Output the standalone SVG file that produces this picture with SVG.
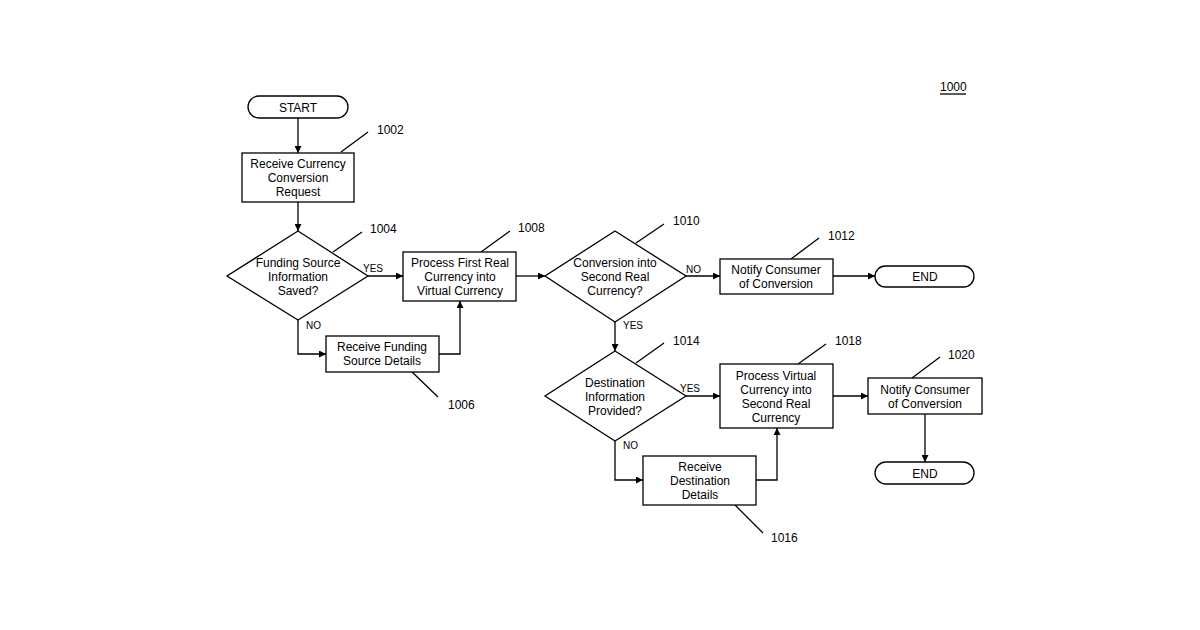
<svg xmlns="http://www.w3.org/2000/svg" width="1200" height="630" viewBox="0 0 1200 630">
<style>
.s{fill:#fff;stroke:#000;stroke-width:1.3}
.l{fill:none;stroke:#000;stroke-width:1.3}
.t{font-family:"Liberation Sans",Arial,sans-serif;font-size:12px;fill:#000;text-anchor:middle}
.n{font-family:"Liberation Sans",Arial,sans-serif;font-size:12px;fill:#000}
.sm{font-family:"Liberation Sans",Arial,sans-serif;font-size:10px;fill:#000}
</style>
<defs><marker id="a" viewBox="0 0 10 10" refX="10" refY="5" markerWidth="7" markerHeight="7" orient="auto" markerUnits="userSpaceOnUse"><path d="M0,0L10,5L0,10z" fill="#000"/></marker></defs>
<rect width="1200" height="630" fill="#fff"/>
<g id="connectors" class="l" marker-end="url(#a)">
<path d="M298,118V153"/>
<path d="M298,202V231"/>
<path d="M368,276H403"/>
<path d="M298,320V354H326"/>
<path d="M439,354H460V301"/>
<path d="M516,276H545"/>
<path d="M686,276H720"/>
<path d="M833,276H875"/>
<path d="M615,322V351"/>
<path d="M686,396H720"/>
<path d="M615,441V480H643"/>
<path d="M756,480H777V428"/>
<path d="M833,396H868"/>
<path d="M925,414V462"/>
</g>
<g class="l">
<path d="M341,152L368,132M333,252L362,232M481,252L510,231M411,371L438,397M636,243L664,224M791,259L819,238M636,363L664,343M798,364L826,344M912,378L940,357M735,505L763,533"/>
</g>
<g class="n"><text x="377" y="134">1002</text><text x="370" y="233">1004</text><text x="518" y="232">1008</text><text x="448" y="409">1006</text><text x="673" y="225">1010</text><text x="828" y="240">1012</text><text x="673" y="345">1014</text><text x="835" y="345">1018</text><text x="948" y="359">1020</text><text x="771" y="542">1016</text>
<text x="940" y="91">1000</text></g>
<path d="M940,94H966" class="l" stroke-width="1"/>
<g class="sm"><text x="306" y="329">NO</text><text x="363" y="272">YES</text><text x="623" y="329">YES</text><text x="686" y="273">NO</text><text x="680" y="392">YES</text><text x="623" y="449">NO</text></g>
<g id="start"><rect class="s" x="248" y="96" width="100" height="22" rx="11"/><text class="t" x="298" y="111.5">START</text></g>
<g id="n1002"><rect class="s" x="242" y="153" width="112" height="49"/><text class="t" x="298" y="168">Receive Currency</text><text class="t" x="298" y="182">Conversion</text><text class="t" x="298" y="196">Request</text></g>
<g id="n1004"><path class="s" d="M298,231L368,276L298,320L227,276z"/><text class="t" x="298" y="267">Funding Source</text><text class="t" x="298" y="281">Information</text><text class="t" x="298" y="295">Saved?</text></g>
<g id="n1006"><rect class="s" x="326" y="336" width="113" height="36"/><text class="t" x="382" y="351">Receive Funding</text><text class="t" x="382" y="365">Source Details</text></g>
<g id="n1008"><rect class="s" x="403" y="252" width="113" height="49"/><text class="t" x="460" y="267">Process First Real</text><text class="t" x="460" y="281">Currency into</text><text class="t" x="460" y="295">Virtual Currency</text></g>
<g id="n1010"><path class="s" d="M615,231L686,276L615,322L545,276z"/><text class="t" x="615" y="267">Conversion into</text><text class="t" x="615" y="281">Second Real</text><text class="t" x="615" y="295">Currency?</text></g>
<g id="n1012"><rect class="s" x="720" y="259" width="113" height="35"/><text class="t" x="776" y="274">Notify Consumer</text><text class="t" x="776" y="288">of Conversion</text></g>
<g id="end1"><rect class="s" x="875" y="266" width="99" height="21" rx="10.5"/><text class="t" x="925" y="281">END</text></g>
<g id="n1014"><path class="s" d="M615,351L686,396L615,441L545,396z"/><text class="t" x="615" y="387">Destination</text><text class="t" x="615" y="401">Information</text><text class="t" x="615" y="415">Provided?</text></g>
<g id="n1016"><rect class="s" x="643" y="456" width="113" height="49"/><text class="t" x="700" y="471">Receive</text><text class="t" x="700" y="485">Destination</text><text class="t" x="700" y="499">Details</text></g>
<g id="n1018"><rect class="s" x="720" y="364" width="113" height="64"/><text class="t" x="776" y="380">Process Virtual</text><text class="t" x="776" y="394">Currency into</text><text class="t" x="776" y="408">Second Real</text><text class="t" x="776" y="422">Currency</text></g>
<g id="n1020"><rect class="s" x="868" y="378" width="114" height="36"/><text class="t" x="925" y="394">Notify Consumer</text><text class="t" x="925" y="408">of Conversion</text></g>
<g id="end2"><rect class="s" x="875" y="462" width="99" height="22" rx="11"/><text class="t" x="925" y="477.5">END</text></g>
</svg>
